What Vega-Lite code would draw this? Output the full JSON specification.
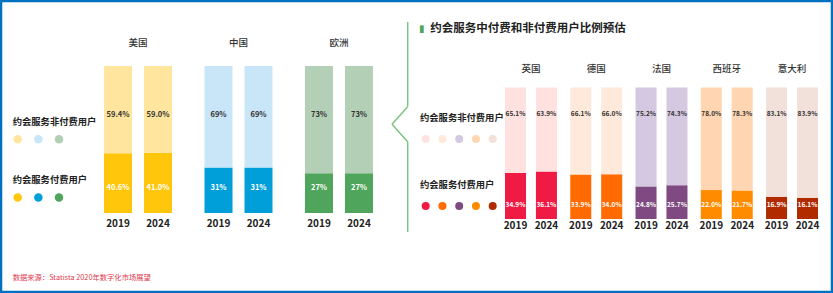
{
  "$schema": "https://vega.github.io/schema/vega-lite/v6.json",
  "width": 833,
  "height": 293,
  "autosize": {"type": "fit", "contains": "padding"},
  "padding": 0,
  "background": "white",
  "config": {
    "view": {"stroke": "#0070C0", "strokeWidth": 4.5},
    "font": "Noto Sans CJK SC"
  },
  "data": {
    "values": [
      {"panel": "left", "country": "美国", "year": "2019", "type": "约会服务付费用户", "value": 0.406},
      {"panel": "left", "country": "美国", "year": "2019", "type": "约会服务非付费用户", "value": 0.594},
      {"panel": "left", "country": "美国", "year": "2024", "type": "约会服务付费用户", "value": 0.41},
      {"panel": "left", "country": "美国", "year": "2024", "type": "约会服务非付费用户", "value": 0.59},
      {"panel": "left", "country": "中国", "year": "2019", "type": "约会服务付费用户", "value": 0.31},
      {"panel": "left", "country": "中国", "year": "2019", "type": "约会服务非付费用户", "value": 0.69},
      {"panel": "left", "country": "中国", "year": "2024", "type": "约会服务付费用户", "value": 0.31},
      {"panel": "left", "country": "中国", "year": "2024", "type": "约会服务非付费用户", "value": 0.69},
      {"panel": "left", "country": "欧洲", "year": "2019", "type": "约会服务付费用户", "value": 0.27},
      {"panel": "left", "country": "欧洲", "year": "2019", "type": "约会服务非付费用户", "value": 0.73},
      {"panel": "left", "country": "欧洲", "year": "2024", "type": "约会服务付费用户", "value": 0.27},
      {"panel": "left", "country": "欧洲", "year": "2024", "type": "约会服务非付费用户", "value": 0.73},
      {"panel": "right", "country": "英国", "year": "2019", "type": "约会服务付费用户", "value": 0.349},
      {"panel": "right", "country": "英国", "year": "2019", "type": "约会服务非付费用户", "value": 0.651},
      {"panel": "right", "country": "英国", "year": "2024", "type": "约会服务付费用户", "value": 0.361},
      {"panel": "right", "country": "英国", "year": "2024", "type": "约会服务非付费用户", "value": 0.639},
      {"panel": "right", "country": "德国", "year": "2019", "type": "约会服务付费用户", "value": 0.339},
      {"panel": "right", "country": "德国", "year": "2019", "type": "约会服务非付费用户", "value": 0.661},
      {"panel": "right", "country": "德国", "year": "2024", "type": "约会服务付费用户", "value": 0.34},
      {"panel": "right", "country": "德国", "year": "2024", "type": "约会服务非付费用户", "value": 0.66},
      {"panel": "right", "country": "法国", "year": "2019", "type": "约会服务付费用户", "value": 0.248},
      {"panel": "right", "country": "法国", "year": "2019", "type": "约会服务非付费用户", "value": 0.752},
      {"panel": "right", "country": "法国", "year": "2024", "type": "约会服务付费用户", "value": 0.257},
      {"panel": "right", "country": "法国", "year": "2024", "type": "约会服务非付费用户", "value": 0.743},
      {"panel": "right", "country": "西班牙", "year": "2019", "type": "约会服务付费用户", "value": 0.22},
      {"panel": "right", "country": "西班牙", "year": "2019", "type": "约会服务非付费用户", "value": 0.78},
      {"panel": "right", "country": "西班牙", "year": "2024", "type": "约会服务付费用户", "value": 0.217},
      {"panel": "right", "country": "西班牙", "year": "2024", "type": "约会服务非付费用户", "value": 0.783},
      {"panel": "right", "country": "意大利", "year": "2019", "type": "约会服务付费用户", "value": 0.169},
      {"panel": "right", "country": "意大利", "year": "2019", "type": "约会服务非付费用户", "value": 0.831},
      {"panel": "right", "country": "意大利", "year": "2024", "type": "约会服务付费用户", "value": 0.161},
      {"panel": "right", "country": "意大利", "year": "2024", "type": "约会服务非付费用户", "value": 0.839}
    ]
  },
  "layer": [
    {
      "transform": [
        {"filter": "datum.panel === 'left'"},
        {"stack": "value", "groupby": ["country", "year"], "sort": [{"field": "type", "order": "ascending"}], "as": ["v0", "v1"]}
      ],
      "encoding": {
        "x": {"field": "country", "type": "nominal", "scale": {"type": "band", "domain": ["美国", "中国", "欧洲"], "range": [104, 373], "paddingInner": 0.3234, "paddingOuter": 0, "round": false}, "axis": null}
      },
      "layer": [
        {
          "transform": [{"filter": "datum.type === '约会服务付费用户'"}],
          "mark": {"type": "bar"},
          "encoding": {
            "xOffset": {"field": "year", "type": "nominal", "scale": {"domain": ["2019", "2024"], "paddingInner": 0.3, "paddingOuter": 0}},
            "y": {"field": "v0", "type": "quantitative", "scale": {"domain": [0, 1], "range": [213, 66], "nice": false, "zero": false}, "axis": null},
            "y2": {"field": "v1"},
            "color": {"field": "country", "type": "nominal", "scale": {"domain": ["美国", "中国", "欧洲"], "range": ["#FFC60B", "#009FD9", "#4FA55B"]}, "legend": null}
          }
        },
        {
          "transform": [{"filter": "datum.type === '约会服务非付费用户'"}],
          "mark": {"type": "bar"},
          "encoding": {
            "xOffset": {"field": "year", "type": "nominal"},
            "y": {"field": "v0", "type": "quantitative"},
            "y2": {"field": "v1"},
            "color": {"field": "country", "type": "nominal", "scale": {"domain": ["美国", "中国", "欧洲"], "range": ["#FFE59E", "#C8E6F8", "#B3CFB5"]}, "legend": null}
          }
        },
        {
          "transform": [{"filter": "datum.type === '约会服务非付费用户' && datum.country === '美国'"}],
          "mark": {"type": "text", "fontSize": 7.5, "fontWeight": "bold", "color": "#333333", "dy": 49},
          "encoding": {
            "xOffset": {"field": "year", "type": "nominal"},
            "y": {"datum": 1, "type": "quantitative"},
            "text": {"field": "value", "type": "quantitative", "format": ".1%"}
          }
        },
        {
          "transform": [{"filter": "datum.type === '约会服务付费用户' && datum.country === '美国'"}],
          "mark": {"type": "text", "fontSize": 7.5, "fontWeight": "bold", "color": "white", "dy": -25},
          "encoding": {
            "xOffset": {"field": "year", "type": "nominal"},
            "y": {"datum": 0, "type": "quantitative"},
            "text": {"field": "value", "type": "quantitative", "format": ".1%"}
          }
        },
        {
          "transform": [{"filter": "datum.type === '约会服务非付费用户' && datum.country !== '美国'"}],
          "mark": {"type": "text", "fontSize": 7.5, "fontWeight": "bold", "color": "#333333", "dy": 49},
          "encoding": {
            "xOffset": {"field": "year", "type": "nominal"},
            "y": {"datum": 1, "type": "quantitative"},
            "text": {"field": "value", "type": "quantitative", "format": ".0%"}
          }
        },
        {
          "transform": [{"filter": "datum.type === '约会服务付费用户' && datum.country !== '美国'"}],
          "mark": {"type": "text", "fontSize": 7.5, "fontWeight": "bold", "color": "white", "dy": -25},
          "encoding": {
            "xOffset": {"field": "year", "type": "nominal"},
            "y": {"datum": 0, "type": "quantitative"},
            "text": {"field": "value", "type": "quantitative", "format": ".0%"}
          }
        },
        {
          "transform": [{"filter": "datum.type === '约会服务付费用户'"}],
          "mark": {"type": "text", "fontSize": 10, "fontWeight": "bold", "color": "#222222", "dy": 11},
          "encoding": {
            "xOffset": {"field": "year", "type": "nominal"},
            "y": {"datum": 0, "type": "quantitative"},
            "text": {"field": "year", "type": "nominal"}
          }
        },
        {
          "transform": [{"filter": "datum.type === '约会服务付费用户' && datum.year === '2019'"}],
          "mark": {"type": "text", "fontSize": 9.5, "fontWeight": 500, "color": "#333333", "dy": -23},
          "encoding": {
            "y": {"datum": 1, "type": "quantitative"},
            "text": {"field": "country", "type": "nominal"}
          }
        }
      ],
      "resolve": {"scale": {"color": "independent"}}
    },
    {
      "transform": [
        {"filter": "datum.panel === 'right'"},
        {"stack": "value", "groupby": ["country", "year"], "sort": [{"field": "type", "order": "ascending"}], "as": ["v0", "v1"]}
      ],
      "encoding": {
        "x": {"field": "country", "type": "nominal", "scale": {"type": "band", "domain": ["英国", "德国", "法国", "西班牙", "意大利"], "range": [505, 818], "paddingInner": 0.204, "paddingOuter": 0, "round": false}, "axis": null}
      },
      "layer": [
        {
          "transform": [{"filter": "datum.type === '约会服务付费用户'"}],
          "mark": {"type": "bar"},
          "encoding": {
            "xOffset": {"field": "year", "type": "nominal", "scale": {"domain": ["2019", "2024"], "paddingInner": 0.32, "paddingOuter": 0}},
            "y": {"field": "v0", "type": "quantitative", "scale": {"domain": [0, 1], "range": [219, 87.5], "nice": false, "zero": false}, "axis": null},
            "y2": {"field": "v1"},
            "color": {"field": "country", "type": "nominal", "scale": {"domain": ["英国", "德国", "法国", "西班牙", "意大利"], "range": ["#EF1B45", "#FF6B00", "#7F4A82", "#FF8C00", "#B02C00"]}, "legend": null}
          }
        },
        {
          "transform": [{"filter": "datum.type === '约会服务非付费用户'"}],
          "mark": {"type": "bar"},
          "encoding": {
            "xOffset": {"field": "year", "type": "nominal"},
            "y": {"field": "v0", "type": "quantitative"},
            "y2": {"field": "v1"},
            "color": {"field": "country", "type": "nominal", "scale": {"domain": ["英国", "德国", "法国", "西班牙", "意大利"], "range": ["#FFE1DF", "#FEE9DB", "#D4C9E0", "#FFD6B1", "#F2E0DA"]}, "legend": null}
          }
        },
        {
          "transform": [{"filter": "datum.type === '约会服务非付费用户'"}],
          "mark": {"type": "text", "fontSize": 6.5, "fontWeight": "bold", "color": "#333333", "dy": 26.5},
          "encoding": {
            "xOffset": {"field": "year", "type": "nominal"},
            "y": {"datum": 1, "type": "quantitative"},
            "text": {"field": "value", "type": "quantitative", "format": ".1%"}
          }
        },
        {
          "transform": [{"filter": "datum.type === '约会服务付费用户'"}],
          "mark": {"type": "text", "fontSize": 6.5, "fontWeight": "bold", "color": "white", "dy": -14},
          "encoding": {
            "xOffset": {"field": "year", "type": "nominal"},
            "y": {"datum": 0, "type": "quantitative"},
            "text": {"field": "value", "type": "quantitative", "format": ".1%"}
          }
        },
        {
          "transform": [{"filter": "datum.type === '约会服务付费用户'"}],
          "mark": {"type": "text", "fontSize": 10, "fontWeight": "bold", "color": "#222222", "dy": 7},
          "encoding": {
            "xOffset": {"field": "year", "type": "nominal"},
            "y": {"datum": 0, "type": "quantitative"},
            "text": {"field": "year", "type": "nominal"}
          }
        },
        {
          "transform": [{"filter": "datum.type === '约会服务付费用户' && datum.year === '2019'"}],
          "mark": {"type": "text", "fontSize": 9.5, "fontWeight": 500, "color": "#333333", "dy": -18.5},
          "encoding": {
            "y": {"datum": 1, "type": "quantitative"},
            "text": {"field": "country", "type": "nominal"}
          }
        }
      ],
      "resolve": {"scale": {"color": "independent"}}
    },
    {
      "encoding": {
        "x": {"field": "country", "type": "nominal", "scale": {"type": "point", "domain": ["美国", "中国", "欧洲"], "range": [17.7, 59], "padding": 0}, "axis": null},
        "y": {"field": "type", "type": "nominal", "scale": {"type": "point", "domain": ["约会服务非付费用户", "约会服务付费用户"], "range": [139.3, 197.5], "padding": 0}, "axis": null}
      },
      "layer": [
        {
          "transform": [{"filter": "datum.panel === 'left' && datum.year === '2019' && datum.type === '约会服务付费用户'"}],
          "mark": {"type": "point", "shape": "circle", "filled": true, "opacity": 1, "size": 72},
          "encoding": {
            "color": {"field": "country", "type": "nominal", "scale": {"domain": ["美国", "中国", "欧洲"], "range": ["#FFC60B", "#009FD9", "#4FA55B"]}, "legend": null}
          }
        },
        {
          "transform": [{"filter": "datum.panel === 'left' && datum.year === '2019' && datum.type === '约会服务非付费用户'"}],
          "mark": {"type": "point", "shape": "circle", "filled": true, "opacity": 1, "size": 72},
          "encoding": {
            "color": {"field": "country", "type": "nominal", "scale": {"domain": ["美国", "中国", "欧洲"], "range": ["#FFE59E", "#C8E6F8", "#B3CFB5"]}, "legend": null}
          }
        },
        {
          "transform": [{"filter": "datum.panel === 'left' && datum.year === '2019' && datum.country === '美国'"}],
          "mark": {"type": "text", "align": "left", "dx": -5, "dy": -17.5, "fontSize": 9.3, "fontWeight": "bold", "color": "#222222"},
          "encoding": {"text": {"field": "type", "type": "nominal"}}
        },
        {
          "data": {"values": [{"source": "数据来源：Statista 2020年数字化市场展望"}]},
          "mark": {"type": "text", "align": "left", "dx": -5, "dy": 80, "fontSize": 7.3, "color": "#E23A4E"},
          "encoding": {
            "x": {"datum": "美国", "type": "nominal"},
            "y": {"datum": "约会服务付费用户", "type": "nominal"},
            "text": {"field": "source", "type": "nominal"}
          }
        }
      ],
      "resolve": {"scale": {"color": "independent"}}
    },
    {
      "encoding": {
        "x": {"field": "country", "type": "nominal", "scale": {"type": "point", "domain": ["英国", "德国", "法国", "西班牙", "意大利"], "range": [425.7, 492.7], "padding": 0}, "axis": null},
        "y": {"field": "type", "type": "nominal", "scale": {"type": "point", "domain": ["约会服务非付费用户", "约会服务付费用户"], "range": [139, 206], "padding": 0}, "axis": null}
      },
      "layer": [
        {
          "transform": [{"filter": "datum.panel === 'right' && datum.year === '2019' && datum.type === '约会服务付费用户'"}],
          "mark": {"type": "point", "shape": "circle", "filled": true, "opacity": 1, "size": 64},
          "encoding": {
            "color": {"field": "country", "type": "nominal", "scale": {"domain": ["英国", "德国", "法国", "西班牙", "意大利"], "range": ["#EF1B45", "#FF6B00", "#7F4A82", "#FF8C00", "#B02C00"]}, "legend": null}
          }
        },
        {
          "transform": [{"filter": "datum.panel === 'right' && datum.year === '2019' && datum.type === '约会服务非付费用户'"}],
          "mark": {"type": "point", "shape": "circle", "filled": true, "opacity": 1, "size": 64},
          "encoding": {
            "color": {"field": "country", "type": "nominal", "scale": {"domain": ["英国", "德国", "法国", "西班牙", "意大利"], "range": ["#FFE1DF", "#FEE9DB", "#D4C9E0", "#FFD6B1", "#F2E0DA"]}, "legend": null}
          }
        },
        {
          "transform": [{"filter": "datum.panel === 'right' && datum.year === '2019' && datum.country === '英国'"}],
          "mark": {"type": "text", "align": "left", "dx": -5.7, "dy": -21.5, "fontSize": 9.3, "fontWeight": "bold", "color": "#222222"},
          "encoding": {"text": {"field": "type", "type": "nominal"}}
        },
        {
          "data": {"values": [{"title": "约会服务中付费和非付费用户比例预估"}]},
          "mark": {"type": "text", "align": "left", "dx": 4.5, "dy": -110, "fontSize": 11.5, "fontWeight": "bold", "color": "#222222"},
          "encoding": {
            "x": {"datum": "英国", "type": "nominal"},
            "y": {"datum": "约会服务非付费用户", "type": "nominal"},
            "text": {"field": "title", "type": "nominal"}
          }
        },
        {
          "data": {"values": [{"marker": "▮"}]},
          "mark": {"type": "text", "align": "center", "dx": -4, "dy": -110, "fontSize": 10, "font": "DejaVu Sans", "color": "#4FA55B"},
          "encoding": {
            "x": {"datum": "英国", "type": "nominal"},
            "y": {"datum": "约会服务非付费用户", "type": "nominal"},
            "text": {"field": "marker", "type": "nominal"}
          }
        }
      ],
      "resolve": {"scale": {"color": "independent"}}
    },
    {
      "data": {"values": [{"part": "divider"}]},
      "layer": [
        {
          "mark": {"type": "rule", "color": "#7CC47F", "strokeWidth": 1.5},
          "encoding": {
            "x": {"datum": 1, "type": "quantitative", "scale": {"domain": [0, 1], "range": [392, 407.7], "nice": false, "zero": false}, "axis": null},
            "y": {"datum": 1, "type": "quantitative", "scale": {"domain": [0, 1], "range": [232, 22], "nice": false, "zero": false}, "axis": null},
            "y2": {"datum": 0.597}
          }
        },
        {
          "mark": {"type": "rule", "color": "#7CC47F", "strokeWidth": 1.5},
          "encoding": {
            "x": {"datum": 1, "type": "quantitative"},
            "x2": {"datum": 0},
            "y": {"datum": 0.597, "type": "quantitative"},
            "y2": {"datum": 0.513}
          }
        },
        {
          "mark": {"type": "rule", "color": "#7CC47F", "strokeWidth": 1.5},
          "encoding": {
            "x": {"datum": 0, "type": "quantitative"},
            "x2": {"datum": 1},
            "y": {"datum": 0.513, "type": "quantitative"},
            "y2": {"datum": 0.43}
          }
        },
        {
          "mark": {"type": "rule", "color": "#7CC47F", "strokeWidth": 1.5},
          "encoding": {
            "x": {"datum": 1, "type": "quantitative"},
            "y": {"datum": 0.43, "type": "quantitative"},
            "y2": {"datum": 0}
          }
        }
      ]
    }
  ],
  "resolve": {"scale": {"x": "independent", "y": "independent", "xOffset": "independent", "color": "independent"}}
}
